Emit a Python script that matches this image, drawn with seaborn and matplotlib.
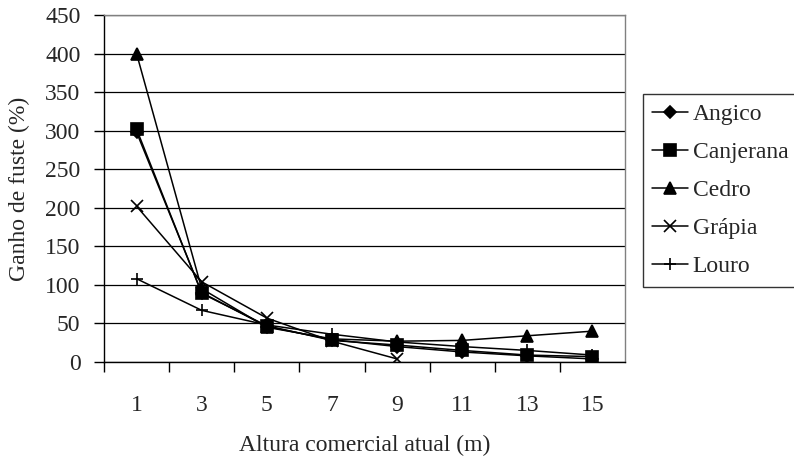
import numpy as np
import pandas as pd
import matplotlib
matplotlib.use("Agg")
import matplotlib.pyplot as plt
import seaborn as sns

# ---- data ----
alturas = ["1", "3", "5", "7", "9", "11", "13", "15"]
angico = [298, 90, 46, 29, 20, 13, 8, 4]
canjerana = [302, 89, 47, 28, 22, 15, 9, 7]
cedro = [400, 95, 45, 30, 27, 28, 34, 40]
grapia = [202, 104, 57, 27, 4, np.nan, np.nan, np.nan]
louro = [108, 67, 48, 36, 26, 20, 15, 9]
especies = ["Angico", "Canjerana", "Cedro", "Grápia", "Louro"]
series = [angico, canjerana, cedro, grapia, louro]

rows = []
for nome, vals in zip(especies, series):
    for i, (h, v) in enumerate(zip(alturas, vals)):
        rows.append({"pos": i, "altura": h, "especie": nome, "ganho": v})
df = pd.DataFrame(rows)

sns.set_style("white")
plt.rcParams["font.family"] = ["Liberation Serif", "DejaVu Serif"]
FS = 17
plt.rcParams["font.size"] = FS

fig = plt.figure(figsize=(7.94, 4.61), dpi=100)
ax = fig.add_axes([104 / 794, 1 - 362 / 461, (625 - 104) / 794, (362 - 15) / 461])

markers = {"Angico": "D", "Canjerana": "s", "Cedro": "^", "Grápia": "x", "Louro": "+"}
sizes = {"Angico": 6, "Canjerana": 8, "Cedro": 9, "Grápia": 8, "Louro": 9}

for nome in especies:
    sub = df[df["especie"] == nome].dropna()
    sns.lineplot(data=sub, x="pos", y="ganho", ax=ax, color="black", lw=1.1,
                 marker=markers[nome], markersize=sizes[nome], markeredgecolor="black",
                 markerfacecolor="black", markeredgewidth=1.2, label=nome, sort=False,
                 errorbar=None)

ax.set_xlim(-0.5, len(alturas) - 0.5)
ax.set_ylim(0, 450)
ax.set_yticks(np.arange(0, 451, 50))
ax.set_xticks(np.arange(len(alturas)))
ax.set_xticklabels(alturas)
ax.set_xticks(np.arange(len(alturas)) - 0.5, minor=True)
ax.tick_params(axis="x", which="major", length=0, pad=24, labelsize=FS)
ax.tick_params(axis="x", which="minor", length=7, width=1, color="black", direction="out", bottom=True)
ax.tick_params(axis="y", which="major", length=7, width=1, color="black", direction="out", left=True, pad=10, labelsize=FS)

ax.yaxis.grid(True, color="black", lw=0.9)
ax.set_axisbelow(True)
for s in ["top", "right"]:
    ax.spines[s].set_color("#808080")
    ax.spines[s].set_linewidth(1)
for s in ["left", "bottom"]:
    ax.spines[s].set_color("black")
    ax.spines[s].set_linewidth(1)

ax.set_xlabel("Altura comercial atual (m)", fontsize=FS, labelpad=13)
ax.set_ylabel("Ganho de fuste (%)", fontsize=FS, labelpad=11)

leg = ax.legend(loc="upper left", bbox_to_anchor=(643 / 794, 1 - 94 / 461),
                bbox_transform=fig.transFigure, frameon=True, fancybox=False,
                edgecolor="black", fontsize=FS, handlelength=1.5, labelspacing=0.7,
                borderpad=0.4, handletextpad=0.2, borderaxespad=0)
leg.get_frame().set_linewidth(1)

fig.savefig("out.png", dpi=100)
